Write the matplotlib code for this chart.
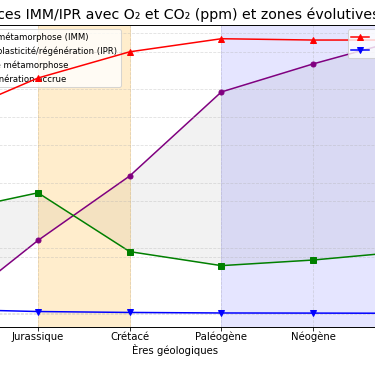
import numpy as np
import matplotlib.pyplot as plt

eres = ["Trias", "Jurassique", "Crétacé", "Paléogène", "Néogène", "Quaternaire"]
imm = [0.0, 0.26, 0.49, 0.79, 0.89, 0.98]
ipr = [0.36, 0.43, 0.22, 0.17, 0.19, 0.22]
o2 = [150000, 180000, 200000, 210000, 209000, 209000]
co2 = [3300, 1600, 900, 500, 400, 280]

DPI = 72.6
fig = plt.figure(figsize=(375 / DPI, 366 / DPI), dpi=DPI)
# the picture is a crop of a wider chart: axes run past both edges
ax1 = fig.add_axes([-0.2043, 0.1066, 1.3446, 0.8251])
x = np.arange(len(eres))

ax1.plot(x, imm, marker='o', color='purple', markersize=5, lw=1.5,
         label="Indice de métamorphose (IMM)")
ax1.plot(x, ipr, marker='s', color='green', markersize=5, lw=1.5,
         label="Indice de plasticité/régénération (IPR)")
ax1.fill_between(x, imm, ipr, color='gray', alpha=0.1)
ax1.axvspan(1, 2, color='orange', alpha=0.2, label="Fenêtre de métamorphose")
ax1.axvspan(3, 5, color='blue', alpha=0.1, label="Zone régénération accrue")
ax1.set_xticks(x)
ax1.set_xticklabels(eres)
ax1.tick_params(axis='x', pad=1)
ax1.set_xlabel("Ères géologiques", labelpad=2)
ax1.set_ylabel("Valeur des indices")
ax1.grid(True, linestyle='--', alpha=0.4)
ax1.set_title("Indices IMM/IPR avec O₂ et CO₂ (ppm) et zones évolutives", fontsize=14)
ax1.legend(loc='upper left', fontsize=8.5)

ax2 = ax1.twinx()
ax2.plot(x, o2, marker='^', color='red', markersize=5, lw=1.5, label="O₂ (ppm)")
ax2.plot(x, co2, marker='v', color='blue', markersize=5, lw=1.5, label="CO₂ (ppm)")
ax2.set_ylabel("Concentration (ppm)")
ax2.grid(True, linestyle='--', alpha=0.4)
ax2.legend(loc='upper right', fontsize=8.5)

fig.savefig("out.png", dpi=DPI)
